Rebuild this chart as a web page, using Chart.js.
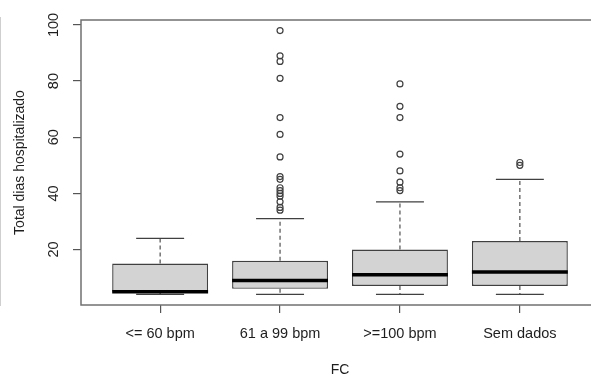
<!DOCTYPE html>
<html>
<head>
<meta charset="utf-8">
<script src="https://cdn.jsdelivr.net/npm/chart.js@4/dist/chart.umd.min.js"></script>
<style>
  html, body { margin: 0; padding: 0; background: #fff; }
  #wrap { position: relative; width: 591px; height: 377px; overflow: hidden; background: #fff; }
  #c { position: absolute; left: 0; top: 0; }
  #edge { position: absolute; left: 0; top: 17px; width: 1px; height: 289px; background: #cfcfcf; }
</style>
</head>
<body>
<div id="wrap">
  <canvas id="c" width="610" height="377"></canvas>
  <div id="edge"></div>
</div>
<script>
// ---- data ----
const categories   = ['<= 60 bpm', '61 a 99 bpm', '>=100 bpm', 'Sem dados'];
const whiskerLow   = [4, 4, 4, 4];
const q1Values     = [5, 6, 7, 7];
const medianValues = [5, 9, 11, 12];
const q3Values     = [15, 16, 20, 23];
const whiskerHigh  = [24, 31, 37, 45];
const outliers0 = [];
const outliers1 = [34, 35, 37, 39, 40, 41, 42, 45, 46, 53, 61, 67, 81, 87, 89, 98];
const outliers2 = [41, 42, 44, 48, 54, 67, 71, 79];
const outliers3 = [50, 51];
const yTicks = [20, 40, 60, 80, 100];
const xTitle = 'FC';
const yTitle = 'Total dias hospitalizado';

const outlierGroups = [outliers0, outliers1, outliers2, outliers3];
const FONT = '"Liberation Sans", Arial, Helvetica, sans-serif';
const TXT = '#1e1e1e';

const boxData = categories.map((c, i) => ({ x: i + 1, y: [q1Values[i], q3Values[i]] }));
const outlierData = [];
outlierGroups.forEach((g, i) => g.forEach(v => outlierData.push({ x: i + 1, y: v })));

const boxExtras = {
  id: 'boxExtras',
  afterDatasetsDraw(chart) {
    const { ctx, scales: { x, y } } = chart;
    ctx.save();
    categories.forEach((c, i) => {
      const cx = x.getPixelForValue(i + 1);
      const halfCap = (x.getPixelForValue(i + 1.2) - x.getPixelForValue(i + 1));
      const halfBox = (x.getPixelForValue(i + 1.4) - x.getPixelForValue(i + 1));
      // dashed whiskers
      ctx.strokeStyle = '#505050';
      ctx.lineWidth = 1.2;
      ctx.setLineDash([4, 3]);
      ctx.beginPath();
      ctx.moveTo(cx, y.getPixelForValue(q3Values[i]));
      ctx.lineTo(cx, y.getPixelForValue(whiskerHigh[i]));
      ctx.moveTo(cx, y.getPixelForValue(q1Values[i]));
      ctx.lineTo(cx, y.getPixelForValue(whiskerLow[i]));
      ctx.stroke();
      // caps
      ctx.setLineDash([]);
      ctx.strokeStyle = '#404040';
      ctx.lineWidth = 1.3;
      ctx.beginPath();
      const yh = y.getPixelForValue(whiskerHigh[i]);
      const yl = y.getPixelForValue(whiskerLow[i]);
      ctx.moveTo(cx - halfCap, yh); ctx.lineTo(cx + halfCap, yh);
      ctx.moveTo(cx - halfCap, yl); ctx.lineTo(cx + halfCap, yl);
      ctx.stroke();
      // median
      ctx.strokeStyle = '#000';
      ctx.lineWidth = 3.5;
      ctx.beginPath();
      const ym = y.getPixelForValue(medianValues[i]);
      ctx.moveTo(cx - halfBox, ym); ctx.lineTo(cx + halfBox, ym);
      ctx.stroke();
    });
    // plot frame
    const a = chart.chartArea;
    ctx.strokeStyle = '#707070';
    ctx.lineWidth = 1.5;
    ctx.strokeRect(a.left, a.top, a.right - a.left, a.bottom - a.top);
    ctx.restore();
  }
};

new Chart(document.getElementById('c'), {
  type: 'bar',
  data: {
    datasets: [
      {
        type: 'bar',
        data: boxData,
        backgroundColor: '#d3d3d3',
        borderColor: '#404040',
        borderWidth: 1.4,
        borderSkipped: false,
        categoryPercentage: 1,
        barPercentage: 0.8,
        order: 2
      },
      {
        type: 'scatter',
        data: outlierData,
        pointStyle: 'circle',
        pointRadius: 3,
        pointBorderWidth: 1.2,
        pointBorderColor: '#404040',
        pointBackgroundColor: 'rgba(0,0,0,0)',
        order: 1
      }
    ]
  },
  options: {
    responsive: false,
    devicePixelRatio: 1,
    animation: false,
    layout: { padding: { left: 0, top: 20, right: 11, bottom: 0 } },
    plugins: { legend: { display: false }, tooltip: { enabled: false } },
    scales: {
      x: {
        type: 'linear',
        offset: false,
        min: 0.34,
        max: 4.66,
        afterBuildTicks: s => { s.ticks = categories.map((c, i) => ({ value: i + 1 })); },
        afterFit: s => { s.height = 72; },
        ticks: {
          autoSkip: false,
          maxRotation: 0,
          padding: 12,
          color: TXT,
          font: { family: FONT, size: 14.5 },
          callback: v => categories[v - 1]
        },
        grid: { offset: false, drawOnChartArea: false, drawTicks: true, tickLength: 8, color: '#555', lineWidth: 1.2 },
        border: { display: false },
        title: {
          display: true, text: xTitle, color: TXT,
          font: { family: FONT, size: 14 },
          padding: { top: 0, bottom: -2 }
        }
      },
      y: {
        type: 'linear',
        min: 0.24,
        max: 101.76,
        afterBuildTicks: s => { s.ticks = yTicks.map(v => ({ value: v })); },
        afterFit: s => { s.width = 81; },
        ticks: {
          minRotation: 90,
          maxRotation: 90,
          crossAlign: 'center',
          padding: 7,
          color: TXT,
          font: { family: FONT, size: 14.5 }
        },
        grid: { drawOnChartArea: false, drawTicks: true, tickLength: 8, color: '#555', lineWidth: 1.2 },
        border: { display: false },
        title: {
          display: true, text: yTitle, color: TXT,
          font: { family: FONT, size: 14 },
          padding: { top: 12, bottom: 0 }
        }
      }
    }
  },
  plugins: [boxExtras]
});
</script>
</body>
</html>
